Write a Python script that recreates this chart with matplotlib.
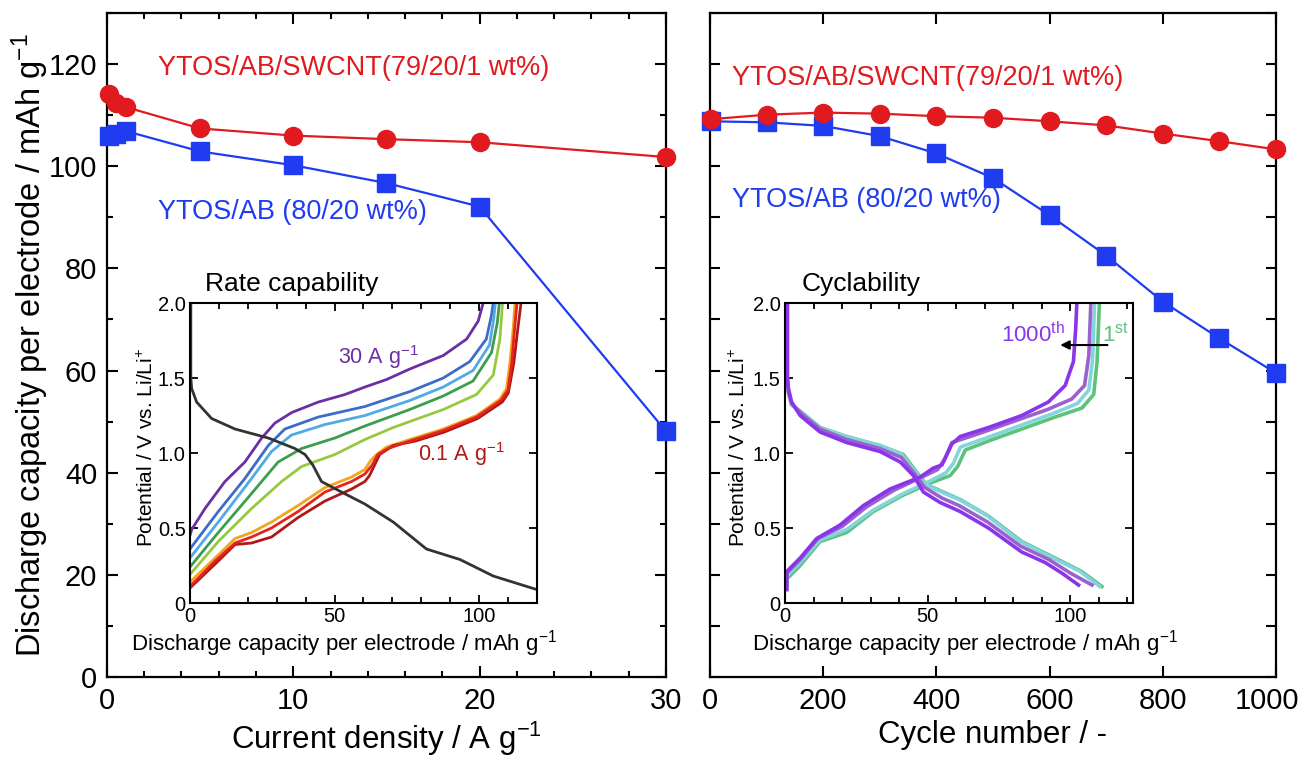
import matplotlib
matplotlib.use('Agg')
import matplotlib.pyplot as plt
from matplotlib.ticker import MultipleLocator
from matplotlib.transforms import ScaledTranslation

plt.rcParams['font.family'] = ['Liberation Sans', 'DejaVu Sans']
plt.rcParams['mathtext.fontset'] = 'custom'
plt.rcParams['mathtext.rm'] = 'Liberation Sans'
plt.rcParams['mathtext.it'] = 'Liberation Sans'
plt.rcParams['mathtext.default'] = 'regular'

# main panels
rate_x = [0.1, 0.5, 1, 5, 10, 15, 20, 30]
rate_swcnt = [114.2, 112.4, 111.6, 107.4, 106.0, 105.3, 104.7, 101.8]
rate_ab = [105.9, 106.3, 106.9, 102.9, 100.2, 96.7, 92.1, 48.1]

cycles = [1, 100, 200, 300, 400, 500, 600, 700, 800, 900, 1000]
cyc_swcnt = [109.2, 110.1, 110.5, 110.3, 109.8, 109.5, 108.8, 108.0, 106.4, 104.9, 103.3]
cyc_ab = [108.8, 108.6, 107.9, 105.9, 102.5, 97.7, 90.4, 82.5, 73.5, 66.3, 59.5]

# inset: rate capability (charge curves at each current density + one discharge)
c30_x = [0, 0.6, 5.2, 12.1, 19.0, 24.8, 29.4, 35.2, 44.4, 53.6, 60.5, 68.0, 76.0, 87.6, 95.7, 99.7, 101.4]
c30_y = [0.45, 0.49, 0.63, 0.81, 0.94, 1.10, 1.20, 1.27, 1.34, 1.39, 1.44, 1.49, 1.56, 1.65, 1.76, 1.88, 2.0]
c20_x = [0, 9.8, 19.0, 27.1, 32.8, 44.4, 60.5, 76.1, 87.6, 96.8, 102.5, 104.3, 104.9]
c20_y = [0.36, 0.61, 0.83, 1.05, 1.16, 1.24, 1.31, 1.41, 1.50, 1.61, 1.76, 1.92, 2.0]
c15_x = [0, 9.8, 21.3, 28.2, 35.1, 46.7, 60.5, 76.0, 87.6, 97.9, 103.6, 105.1, 105.6]
c15_y = [0.30, 0.54, 0.83, 1.01, 1.12, 1.19, 1.25, 1.35, 1.44, 1.55, 1.72, 1.90, 2.0]
c10_x = [0, 9.8, 21.3, 30.5, 38.6, 50.1, 60.5, 76.0, 87.6, 97.9, 104.3, 106.3, 107.0]
c10_y = [0.24, 0.47, 0.73, 0.94, 1.03, 1.10, 1.18, 1.29, 1.38, 1.48, 1.67, 1.87, 2.0]
c5_x = [0, 9.8, 21.3, 31.7, 38.6, 50.1, 60.5, 70.3, 87.6, 99.1, 104.9, 107.2, 108.1]
c5_y = [0.19, 0.41, 0.63, 0.81, 0.91, 0.99, 1.09, 1.17, 1.29, 1.39, 1.52, 1.76, 2.0]
c1_x = [0, 8.7, 15.6, 21.3, 28.2, 37.4, 46.7, 55.9, 60.5, 62.5, 64.5, 68.0, 76.0, 87.6, 99.1, 107.2, 109.5, 110.7, 111.8, 112.4]
c1_y = [0.14, 0.30, 0.43, 0.47, 0.54, 0.65, 0.77, 0.84, 0.89, 0.95, 0.99, 1.04, 1.09, 1.16, 1.25, 1.36, 1.43, 1.61, 1.83, 2.0]
c05_x = [0, 8.7, 15.6, 21.3, 28.2, 37.4, 46.7, 55.9, 60.5, 63.0, 65.0, 68.5, 76.0, 87.6, 99.1, 107.5, 110.0, 111.3, 112.3, 113.1]
c05_y = [0.11, 0.28, 0.40, 0.44, 0.50, 0.61, 0.74, 0.81, 0.86, 0.92, 0.99, 1.03, 1.08, 1.15, 1.24, 1.35, 1.42, 1.60, 1.83, 2.0]
c01_x = [0, 8.7, 15.6, 21.3, 28.2, 37.4, 46.7, 55.9, 60.5, 62.1, 65.6, 70.3, 78.0, 88.0, 99.5, 108.0, 110.1, 112.0, 113.4, 114.5]
c01_y = [0.10, 0.26, 0.39, 0.40, 0.44, 0.57, 0.68, 0.76, 0.81, 0.85, 0.99, 1.05, 1.08, 1.14, 1.23, 1.34, 1.40, 1.60, 1.83, 2.0]
dis_x = [0.3, 0.3, 0.6, 2.3, 7.5, 15.6, 27.1, 36.3, 39.8, 42.5, 45.5, 52.4, 60.5, 70.3, 81.8, 93.4, 104.9, 119.9]
dis_y = [2.0, 1.5, 1.43, 1.34, 1.23, 1.16, 1.10, 1.03, 0.99, 0.92, 0.81, 0.74, 0.66, 0.54, 0.36, 0.29, 0.18, 0.09]

# inset: cyclability (discharge d / charge c)
g_d_x = [0.8, 0.8, 1.2, 2.3, 5.3, 12.3, 21.6, 33.3, 41.5, 46.2, 49.6, 56.6, 61.4, 71.3, 83.0, 94.7, 104.0, 111.1]
g_d_y = [2.0, 1.5, 1.40, 1.32, 1.28, 1.17, 1.11, 1.05, 0.99, 0.87, 0.79, 0.73, 0.69, 0.58, 0.41, 0.30, 0.21, 0.11]
cy_d_x = [0.8, 0.8, 1.2, 2.3, 5.3, 12.3, 21.6, 33.3, 41.0, 45.8, 49.2, 56.0, 61.0, 71.0, 82.5, 94.0, 103.5, 110.3]
cy_d_y = [2.0, 1.5, 1.40, 1.32, 1.28, 1.17, 1.11, 1.05, 0.99, 0.87, 0.79, 0.73, 0.69, 0.58, 0.41, 0.30, 0.21, 0.11]
mp_d_x = [0.8, 0.8, 1.2, 2.3, 5.3, 12.3, 21.6, 33.3, 40.8, 45.5, 49.0, 55.0, 61.0, 71.0, 82.5, 92.5, 100.0, 107.6]
mp_d_y = [2.0, 1.5, 1.41, 1.33, 1.27, 1.16, 1.09, 1.03, 0.97, 0.86, 0.77, 0.70, 0.65, 0.54, 0.38, 0.29, 0.20, 0.12]
p_d_x = [0.8, 0.8, 1.2, 2.3, 5.3, 12.3, 21.6, 33.3, 40.4, 45.0, 48.5, 54.4, 61.4, 71.3, 83.0, 91.2, 97.0, 102.9]
p_d_y = [2.0, 1.5, 1.43, 1.34, 1.25, 1.14, 1.07, 1.01, 0.94, 0.85, 0.74, 0.67, 0.61, 0.50, 0.34, 0.27, 0.20, 0.12]

g_c_x = [0.6, 0.6, 5.3, 12.3, 21.6, 31.0, 41.5, 50.9, 57.9, 60.5, 63.2, 71.3, 83.0, 94.7, 104.1, 108.2, 109.4, 110.2]
g_c_y = [0.09, 0.16, 0.25, 0.41, 0.47, 0.61, 0.72, 0.80, 0.85, 0.91, 1.02, 1.08, 1.16, 1.24, 1.30, 1.39, 1.61, 2.0]
cy_c_x = [0.6, 0.6, 5.3, 12.3, 21.6, 31.0, 41.5, 50.5, 56.5, 59.0, 61.5, 70.5, 82.0, 93.5, 102.5, 106.5, 107.8, 108.5]
cy_c_y = [0.10, 0.18, 0.27, 0.42, 0.49, 0.62, 0.73, 0.81, 0.87, 0.93, 1.04, 1.10, 1.18, 1.26, 1.33, 1.42, 1.62, 2.0]
mp_c_x = [0.6, 0.6, 5.3, 11.5, 20.0, 28.5, 38.0, 48.0, 53.5, 56.0, 58.5, 68.0, 80.0, 92.0, 100.5, 105.0, 106.5, 107.2]
mp_c_y = [0.10, 0.20, 0.29, 0.43, 0.51, 0.64, 0.75, 0.84, 0.89, 0.96, 1.07, 1.13, 1.21, 1.29, 1.36, 1.45, 1.65, 2.0]
p_c_x = [0.6, 0.6, 5.3, 11.1, 19.3, 27.5, 36.8, 47.4, 52.0, 55.0, 58.5, 61.4, 71.3, 83.0, 92.3, 98.2, 101.1, 101.9, 102.3]
p_c_y = [0.09, 0.21, 0.30, 0.43, 0.52, 0.65, 0.76, 0.84, 0.90, 0.92, 1.06, 1.11, 1.17, 1.25, 1.34, 1.45, 1.61, 1.83, 2.0]

RED = '#e01a1e'
BLUE = '#1f3cf0'

fig = plt.figure(figsize=(13.01, 7.57), dpi=100)
ax1 = fig.add_axes([0.0822, 0.1057, 0.4297, 0.8771])
ax2 = fig.add_axes([0.5457, 0.1057, 0.4351, 0.8771])

for ax in (ax1, ax2):
    for s in ax.spines.values():
        s.set_linewidth(1.6)
    ax.set_ylim(0, 130)
    ax.tick_params(which='both', direction='in', top=True, right=True, width=1.5)
    ax.tick_params(which='major', length=8, labelsize=21, pad=7)
    ax.tick_params(which='minor', length=4)
    ax.yaxis.set_major_locator(MultipleLocator(20))
    ax.yaxis.set_minor_locator(MultipleLocator(10))

ax1.plot(rate_x, rate_swcnt, '-o', color=RED, lw=1.6, ms=13, clip_on=False, zorder=5)
ax1.plot(rate_x, rate_ab, '-s', color=BLUE, lw=1.6, ms=12.5, clip_on=False, zorder=4)
ax1.set_xlim(0, 30)
ax1.xaxis.set_major_locator(MultipleLocator(10))
ax1.xaxis.set_minor_locator(MultipleLocator(2))
ax1.set_xlabel('Current density / A g$^{-1}$', fontsize=22.5)
ax1.set_ylabel('Discharge capacity per electrode / mAh g$^{-1}$', fontsize=23.5)
ax1.xaxis.set_label_coords(0.5, -0.065)
ax1.yaxis.set_label_coords(-0.100, 0.5)
ax1.text(2.75, 119.2, 'YTOS/AB/SWCNT(79/20/1 wt%)', color=RED, fontsize=19.5, va='center')
ax1.text(2.75, 91.0, 'YTOS/AB (80/20 wt%)', color=BLUE, fontsize=19.5, va='center')

ax2.plot(cycles, cyc_swcnt, '-o', color=RED, lw=1.6, ms=13, clip_on=False, zorder=5)
ax2.plot(cycles, cyc_ab, '-s', color=BLUE, lw=1.6, ms=12.5, clip_on=False, zorder=4)
ax2.set_xlim(0, 1000)
ax2.set_xticks([0, 200, 400, 600, 800, 1000])
ax2.set_xticklabels(['0', '200', '400', '600', '800', '1000'])
ax2.tick_params(axis='y', which='both', labelleft=False, length=7)
ax2.set_xlabel('Cycle number / -', fontsize=22.5)
ax2.xaxis.set_label_coords(0.5, -0.065)
ax2.text(39, 117.3, 'YTOS/AB/SWCNT(79/20/1 wt%)', color=RED, fontsize=19.5, va='center')
ax2.text(39, 93.4, 'YTOS/AB (80/20 wt%)', color=BLUE, fontsize=19.5, va='center')
# keep "1000" inside the figure
last = ax2.xaxis.get_major_ticks()[-1].label1
last.set_transform(last.get_transform() + ScaledTranslation(-0.09, 0, fig.dpi_scale_trans))

# insets
in1 = fig.add_axes([0.1460, 0.2034, 0.2667, 0.3963])
in2 = fig.add_axes([0.6034, 0.2034, 0.2675, 0.3963])
for ax in (in1, in2):
    for s in ax.spines.values():
        s.set_linewidth(1.5)
    ax.set_ylim(0, 2.0)
    ax.set_yticks([0, 0.5, 1.0, 1.5, 2.0])
    ax.set_yticklabels(['0', '0.5', '1.0', '1.5', '2.0'])
    ax.xaxis.set_major_locator(MultipleLocator(50))
    ax.xaxis.set_minor_locator(MultipleLocator(10))
    ax.tick_params(which='both', direction='in', top=True, right=True, width=1.3, labelsize=14.5)
    ax.tick_params(which='major', length=6, pad=3)
    ax.tick_params(which='minor', length=4)
    ax.set_xlabel('Discharge capacity per electrode / mAh g$^{-1}$', fontsize=16)
    ax.set_ylabel('Potential / V vs. Li/Li$^{+}$', fontsize=15)
in1.set_xlim(0, 120)
in2.set_xlim(0, 122)
in1.xaxis.set_label_coords(0.444, -0.082)
in2.xaxis.set_label_coords(0.517, -0.082)
in1.yaxis.set_label_coords(-0.095, 0.52)
in2.yaxis.set_label_coords(-0.104, 0.52)

rate_curves = [
    (c30_x, c30_y, '#6b2fa3'),
    (c20_x, c20_y, '#3d6cc6'),
    (c15_x, c15_y, '#4faae6'),
    (c10_x, c10_y, '#3c9e4c'),
    (c5_x, c5_y, '#96c940'),
    (c1_x, c1_y, '#f2a51f'),
    (c01_x, c01_y, '#b31616'),
    (c05_x, c05_y, '#e3241c'),
]
for xs, ys, col in rate_curves:
    in1.plot(xs, ys, color=col, lw=2.0)
in1.plot(dis_x, dis_y, color='#333333', lw=2.0)
in1.text(0.043, 1.065, 'Rate capability', transform=in1.transAxes, fontsize=19, va='center')
in1.text(51.2, 1.64, '30 A g$^{-1}$', color='#6b2fa3', fontsize=15.5, va='center')
in1.text(78.8, 0.99, '0.1 A g$^{-1}$', color='#b31616', fontsize=15.5, va='center')

cyc_curves = [
    (g_d_x, g_d_y, g_c_x, g_c_y, '#5dc27c'),
    (cy_d_x, cy_d_y, cy_c_x, cy_c_y, '#84d4dc'),
    (mp_d_x, mp_d_y, mp_c_x, mp_c_y, '#9a62cf'),
    (p_d_x, p_d_y, p_c_x, p_c_y, '#8a35ea'),
]
for dx, dy, cx, cy, col in cyc_curves:
    in2.plot(dx, dy, color=col, lw=2.6)
    in2.plot(cx, cy, color=col, lw=2.6)
in2.text(0.049, 1.065, 'Cyclability', transform=in2.transAxes, fontsize=19, va='center')
in2.text(98.2, 1.79, '1000$^{th}$', color='#8a35ea', fontsize=16, va='center', ha='right')
in2.text(111.0, 1.79, '1$^{st}$', color='#5dc27c', fontsize=16, va='center')
in2.annotate('', xy=(95.5, 1.72), xytext=(114, 1.72),
             arrowprops=dict(arrowstyle='-|>', color='black', lw=1.5, mutation_scale=13))

fig.savefig('out.png', dpi=100)
